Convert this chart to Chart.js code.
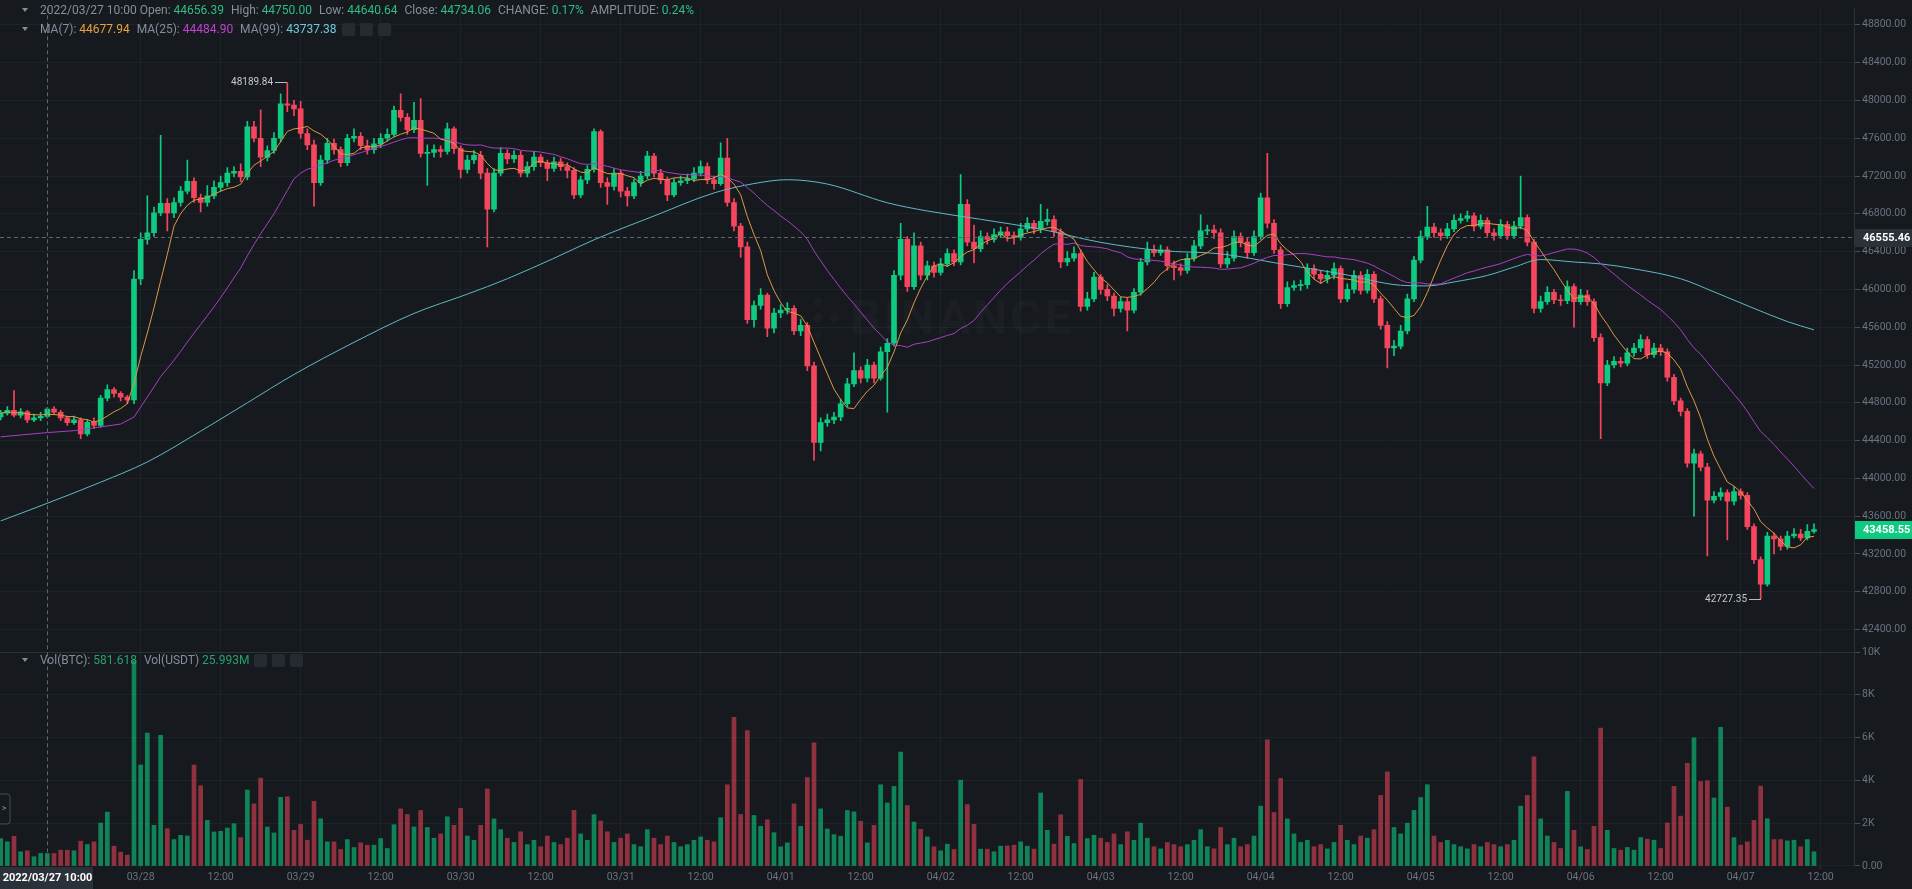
<!DOCTYPE html>
<html>
<head>
<meta charset="utf-8">
<script src="https://cdn.jsdelivr.net/npm/chart.js@4.4.1/dist/chart.umd.min.js"></script>
<style>
  html, body { margin: 0; padding: 0; background: #161a1e; overflow: hidden; }
  #wrap { position: relative; width: 1912px; height: 889px; }
  #chart { position: absolute; left: 0; top: 0; }
  .info { position: absolute; left: 22px; font: 12px Roboto, sans-serif; color: #848e9c; white-space: nowrap; line-height: 14px; }
  .info .arr { display: inline-block; width: 0; height: 0; border-left: 3px solid transparent; border-right: 3px solid transparent; border-top: 4px solid #848e9c; margin: 0 12px 1px 0; vertical-align: middle; }
  .info span.v { margin-right: 4px; }
  .g { color: #2ebd85; }
  .gv { color: #27a070; }
  .o { color: #e8a33d; }
  .p { color: #c040d6; }
  .t { color: #6ccbdb; }
  .btn { display: inline-block; width: 13px; height: 13px; background: #262b32; border-radius: 2px; margin-left: 5px; vertical-align: middle; }
</style>
</head>
<body>
<div id="wrap">
  <canvas id="chart" width="1912" height="889"></canvas>
  <div class="info" style="top:3px"><i class="arr"></i>2022/03/27 10:00 Open: <span class="g v">44656.39</span> High: <span class="g v">44750.00</span> Low: <span class="g v">44640.64</span> Close: <span class="g v">44734.06</span> CHANGE: <span class="g v">0.17%</span> AMPLITUDE: <span class="g">0.24%</span></div>
  <div class="info" style="top:22px"><i class="arr"></i>MA(7): <span class="o v">44677.94</span> MA(25): <span class="p v">44484.90</span> MA(99): <span class="t">43737.38</span><i class="btn"></i><i class="btn"></i><i class="btn"></i></div>
  <div class="info" style="top:653px"><i class="arr"></i>Vol(BTC): <span class="gv v">581.618</span> Vol(USDT) <span class="gv">25.993M</span><i class="btn"></i><i class="btn"></i><i class="btn"></i></div>
</div>
<script>
// BTC/USDT 1h candles, first one 2022/03/27 03:00, last one 2022/04/07 11:00
const firstOpen = 44650;
const closes = [
  44690,44720,44670,44705,44620,44640,44656.39,44734.06,44700,44640,
  44590,44620,44470,44593,44560,44850,44940,44900,44860,44830,
  46110,46530,46600,46810,46910,46810,46920,47040,47145,46970,
  46920,46990,47080,47130,47230,47250,47190,47720,47600,47400,
  47470,47600,47965,47950,47910,47650,47530,47130,47370,47545,
  47480,47340,47600,47620,47520,47480,47540,47600,47640,47895,
  47820,47690,47790,47440,47450,47480,47460,47700,47490,47270,
  47370,47420,47230,46850,47230,47440,47380,47420,47230,47300,
  47400,47340,47280,47350,47300,47260,47000,47160,47270,47670,
  47130,47090,47230,47040,46990,47130,47200,47410,47230,47160,
  47000,47130,47150,47170,47230,47300,47160,47120,47390,46920,
  46670,46450,45680,45830,45940,45590,45750,45780,45800,45560,
  45620,45190,44380,44590,44620,44650,44790,45000,45140,45060,
  45200,45060,45340,45430,46150,46530,46030,46460,46150,46250,
  46180,46270,46380,46290,46900,46500,46430,46560,46530,46580,
  46610,46570,46550,46640,46700,46640,46720,46740,46610,46290,
  46330,46380,45820,45900,46130,46000,45930,45800,45870,45780,
  45970,46290,46420,46390,46420,46250,46230,46200,46330,46460,
  46620,46630,46600,46270,46330,46560,46500,46390,46560,46970,
  46700,46420,45850,46020,46040,46050,46220,46160,46110,46150,
  46220,45900,46000,46150,45990,46160,45900,45620,45380,45400,
  45560,45900,46310,46560,46660,46600,46570,46640,46730,46750,
  46780,46670,46730,46600,46570,46690,46570,46670,46760,46500,
  45800,45870,45970,45890,45880,46030,45870,45940,45870,45490,
  45010,45200,45240,45220,45330,45380,45470,45310,45380,45340,
  45070,44820,44710,44160,44260,44120,43770,43810,43850,43760,
  43860,43820,43490,43140,42880,43390,43360,43280,43390,43410,
  43370,43440,43458.55
];
const highs = [
  44720,44760,44930,44740,44720,44680,44700,44750,44760,44720,
  44660,44660,44640,44620,44640,44880,44990,44960,44920,44880,
  46200,46600,46990,46870,47630,46960,46970,47090,47370,47180,
  47010,47100,47150,47200,47290,47300,47330,47780,47780,47900,
  47520,47660,48070,48189.84,48000,47990,47700,47580,47420,47600,
  47590,47510,47640,47700,47660,47580,47600,47650,47700,47940,
  48070,47860,47980,48020,47530,47530,47520,47760,47720,47520,
  47420,47470,47460,47280,47280,47500,47480,47470,47460,47350,
  47460,47430,47370,47400,47390,47340,47290,47200,47310,47700,
  47690,47180,47280,47260,47080,47170,47250,47460,47440,47270,
  47190,47170,47200,47220,47290,47360,47340,47200,47550,47600,
  46960,46700,46500,45880,46010,45960,45800,45840,45860,45830,
  45680,45650,45230,44640,44680,44700,44840,45060,45330,45180,
  45260,45230,45390,45480,46200,46700,46560,46600,46500,46300,
  46290,46330,46430,46420,47214,46950,46680,46620,46600,46640,
  46660,46660,46610,46700,46760,46730,46900,46850,46780,46640,
  46400,46450,46420,45970,46180,46160,46050,45960,45920,45910,
  46010,46330,46500,46470,46470,46450,46300,46270,46380,46520,
  46790,46680,46680,46640,46400,46620,46600,46540,46620,47020,
  47440,46740,46450,46080,46090,46100,46270,46260,46200,46200,
  46280,46250,46060,46200,46190,46210,46190,45930,45660,45460,
  45620,45950,46350,46620,46880,46700,46640,46700,46790,46800,
  46830,46810,46790,46760,46640,46740,46720,46720,47200,46790,
  46530,45930,46030,46000,45940,46090,46060,46000,45990,45900,
  45530,45250,45290,45280,45380,45430,45520,45500,45430,45420,
  45370,45100,44850,44740,44310,44290,44160,43860,43900,43880,
  43910,43890,43850,43520,43170,43430,43420,43390,43440,43470,
  43460,43510,43520
];
const lows = [
  44620,44670,44650,44640,44590,44600,44610,44640.64,44680,44610,
  44560,44570,44420,44450,44530,44540,44820,44860,44820,44790,
  44790,46050,46480,46560,46780,46620,46760,46880,47010,46920,
  46820,46880,46960,47040,47090,47190,47140,47160,47560,47300,
  47360,47440,47560,47880,47840,47600,47480,46880,47100,47330,
  47430,47300,47310,47560,47480,47430,47440,47500,47570,47620,
  47780,47640,47660,47400,47100,47400,47400,47430,47440,47180,
  47230,47330,47170,46450,46820,47200,47330,47340,47190,47190,
  47260,47300,47150,47250,47260,47180,46960,46970,47120,47240,
  47080,46900,47050,46980,46880,46960,47090,47170,47190,47120,
  46940,46980,47100,47120,47140,47200,47120,47060,47100,46880,
  46620,46340,45640,45600,45790,45500,45540,45700,45740,45520,
  45510,45140,44190,44290,44550,44580,44610,44760,44970,45010,
  45020,45010,45040,44700,45400,46100,45980,46000,46100,46100,
  46130,46150,46240,46250,46260,46460,46280,46400,46480,46500,
  46550,46510,46480,46520,46610,46590,46600,46680,46560,46230,
  46250,46300,45770,45780,45870,45950,45880,45720,45760,45560,
  45750,45940,46260,46350,46360,46200,46100,46150,46170,46300,
  46430,46580,46540,46230,46230,46300,46450,46330,46360,46530,
  46650,46380,45800,45820,45990,45990,46010,46110,46060,46070,
  46110,45860,45870,45960,45950,45960,45860,45580,45170,45300,
  45370,45530,45870,46280,46530,46550,46520,46540,46610,46700,
  46720,46620,46640,46560,46520,46540,46530,46540,46640,46460,
  45750,45760,45840,45850,45830,45850,45600,45840,45830,45450,
  44420,44980,45170,45180,45190,45290,45340,45270,45280,45300,
  45030,44780,44660,44120,43600,44080,43180,43740,43770,43350,
  43720,43780,43460,43100,42727.35,42860,43200,43240,43250,43370,
  43340,43350,43420
];
// volume in BTC
const volumes = [
  1282,1128,1390,664,710,432,586,582,586,741,
  741,710,1158,1004,1128,2008,2517,926,648,509,
  9600,4722,6219,1900,6111,1745,1236,1436,1405,4722,
  3750,2130,1590,1621,1775,1976,1328,3550,2902,4106,
  1822,1544,3211,3241,1668,1945,1205,3025,2207,1128,
  1128,772,1236,864,1081,973,973,1282,818,1930,
  2671,2409,1822,2594,1800,1300,1500,2300,1900,2700,
  1400,1200,1900,3600,2200,1700,1300,1100,1600,1000,
  1200,900,1400,1100,1000,1300,2600,1500,1200,2400,
  2100,1600,1100,1300,1500,1000,900,1700,1300,1000,
  1400,1100,900,1000,1200,1359,1205,1128,2254,3797,
  6945,2409,6327,2362,1853,2161,1559,895,1081,2902,
  1853,4136,5757,2671,1730,1467,1390,2594,2532,2084,
  1081,1899,3797,2949,3720,5325,2825,2053,1714,1359,
  895,710,1019,772,4013,2871,1945,787,787,664,
  926,941,973,1128,926,787,3411,1668,1019,2393,
  1390,1050,4044,1282,1436,1300,1100,1500,1000,1600,
  1200,2000,1300,900,800,1100,1000,900,1000,1200,
  1700,900,800,1800,1000,1300,900,1000,1400,2800,
  5900,2500,4100,2200,1500,1100,1200,900,1000,800,
  1100,1900,1200,1000,1400,1300,1700,3300,4400,1800,
  1500,2000,2600,3200,3800,1400,1100,1200,1000,900,
  800,1000,900,1100,1000,900,1000,1200,2800,3300,
  5100,2200,1400,1100,818,3488,1668,895,772,1853,
  6451,1668,818,741,864,741,1328,1251,1205,818,
  2008,3720,2331,4800,5988,3951,3982,3180,6482,2748,
  1328,973,1128,2130,3735,2207,1236,1236,1174,1205,
  895,1236,664
];
// MA(99) at some candles
const ma99At  = [0,7,15,22,30,37,44,53,62,70,76,83,89,98,107,113,118,124,133,139,147,156,165,174,183,192,201,210,214,218,223,227,231,236,240,245,252,257,263,268,272];
const ma99Val = [43550,43737,43960,44174,44500,44800,45100,45440,45746,45950,46113,46330,46525,46777,47021,47120,47161,47115,46917,46830,46742,46638,46498,46411,46376,46271,46166,46044,46037,46079,46148,46236,46316,46290,46270,46218,46113,45974,45799,45660,45572];
// MA(25) before a full window is on screen
const ma25HeadAt  = [0,7,11,18,20,22];
const ma25HeadVal = [44440,44484.9,44505,44575,44650,44860];

// axis labels
const firstTickCandle = 21; // 03/28 00:00
const tickLabels = ['03/28','12:00','03/29','12:00','03/30','12:00','03/31','12:00','04/01','12:00','04/02','12:00','04/03','12:00','04/04','12:00','04/05','12:00','04/06','12:00','04/07','12:00'];
const priceTicks = [42400,42800,43200,43600,44000,44400,44800,45200,45600,46000,46400,46800,47200,47600,48000,48400,48800];
const volTicks = [0,2000,4000,6000,8000,10000];

// crosshair
const crossCandle = 7;
const crossPrice = 46555.46;
const crossTime = '2022/03/27 10:00';

const GREEN = '#0ecb81', RED = '#f6465d';
const GRID = '#1e2329', TXT = '#6b7280';

const idx = closes.map((c, i) => i);
const opens = closes.map((c, i) => i === 0 ? firstOpen : closes[i - 1]);
const candleColors = idx.map(i => closes[i] >= opens[i] ? GREEN : RED);
const volColors = idx.map(i => closes[i] >= opens[i] ? 'rgba(14,203,129,0.6)' : 'rgba(246,70,93,0.55)');

// simple moving average of closes
function movingAvg(n, from) {
  const out = [];
  for (let i = from; i < closes.length; i++) {
    const start = Math.max(0, i - n + 1);
    let s = 0;
    for (let k = start; k <= i; k++) s += closes[k];
    out.push({ x: i, y: s / (i - start + 1) });
  }
  return out;
}
const ma7 = movingAvg(7, 0);
const ma25 = ma25HeadAt.map((v, k) => ({ x: v, y: ma25HeadVal[k] })).concat(movingAvg(25, 24));
const ma99 = ma99At.map((v, k) => ({ x: v, y: ma99Val[k] }));

function tag(c, yPix, text, bg) {
  c.fillStyle = bg;
  c.fillRect(1855, Math.round(yPix) - 9, 57, 18);
  c.fillStyle = '#ffffff';
  c.font = 'bold 11px Roboto';
  c.textAlign = 'left';
  c.textBaseline = 'middle';
  c.fillText(text, 1863, Math.round(yPix) + 0.5);
}

const overlay = {
  id: 'overlay',
  beforeDatasetsDraw(chart) {
    const c = chart.ctx;
    c.save();
    // watermark
    c.fillStyle = 'rgba(255,255,255,0.022)';
    c.translate(818, 318);
    c.rotate(Math.PI / 4);
    c.fillRect(-4, -4, 8, 8);
    c.fillRect(-15, -15, 7, 7); c.fillRect(8, -15, 7, 7); c.fillRect(-15, 8, 7, 7); c.fillRect(8, 8, 7, 7);
    c.setTransform(1, 0, 0, 1, 0, 0);
    c.font = 'bold 48px Roboto';
    c.textBaseline = 'middle';
    c.letterSpacing = '3px';
    c.fillText('BINANCE', 850, 322);
    c.restore();
  },
  afterDraw(chart) {
    const c = chart.ctx, a = chart.chartArea;
    const x = chart.scales.x, y = chart.scales.y;
    c.save();
    // dashed crosshair
    const cx = Math.round(x.getPixelForValue(crossCandle)) + 0.5;
    const cy = Math.round(y.getPixelForValue(crossPrice)) + 0.5;
    c.strokeStyle = '#5e6673';
    c.lineWidth = 1;
    c.setLineDash([4, 3]);
    c.beginPath();
    c.moveTo(cx, a.top); c.lineTo(cx, a.bottom);
    c.moveTo(a.left, cy); c.lineTo(a.right, cy);
    c.stroke();
    c.setLineDash([]);

    tag(c, cy, crossPrice.toFixed(2), '#2b3139');
    const last = closes.length - 1;
    tag(c, y.getPixelForValue(closes[last]), closes[last].toFixed(2), GREEN);

    // time label under crosshair
    c.fillStyle = '#2b3139';
    c.fillRect(0, 867, 93, 22);
    c.fillStyle = '#ffffff';
    c.font = 'bold 11px Roboto';
    c.textAlign = 'center';
    c.textBaseline = 'middle';
    c.fillText(crossTime, cx, 878);

    // highest high / lowest low markers
    const hi = highs.indexOf(Math.max(...highs));
    const lo = lows.indexOf(Math.min(...lows));
    c.strokeStyle = '#b7bdc6';
    c.fillStyle = '#c4c8ce';
    c.font = '10px Roboto';
    c.textAlign = 'right';
    [[hi, highs[hi]], [lo, lows[lo]]].forEach(([i, v]) => {
      const px = Math.round(x.getPixelForValue(i));
      const py = Math.round(y.getPixelForValue(v)) + 0.5;
      c.beginPath(); c.moveTo(px - 12, py); c.lineTo(px, py); c.stroke();
      c.fillText(v.toFixed(2), px - 14, py);
    });

    // side handle
    c.strokeStyle = '#474d57';
    c.beginPath();
    c.roundRect(-3, 794, 13, 30, 3);
    c.stroke();
    c.fillStyle = '#848e9c';
    c.font = '9px Roboto';
    c.textAlign = 'center';
    c.fillText('>', 4, 809);
    c.restore();
  }
};

Chart.defaults.font.family = 'Roboto';

new Chart(document.getElementById('chart'), {
  type: 'bar',
  data: {
    datasets: [
      { type: 'line', data: ma7, borderColor: '#d99a45', borderWidth: 1, pointRadius: 0, yAxisID: 'y', order: 1 },
      { type: 'line', data: ma25, borderColor: '#a83fc6', borderWidth: 1, pointRadius: 0, yAxisID: 'y', order: 1 },
      { type: 'line', data: ma99, borderColor: '#5fb9c6', borderWidth: 1, pointRadius: 0, cubicInterpolationMode: 'monotone', yAxisID: 'y', order: 1 },
      { data: idx.map(i => ({ x: i, y: [lows[i], highs[i]] })), backgroundColor: candleColors, barThickness: 1, grouped: false, yAxisID: 'y', order: 3 },
      { data: idx.map(i => ({ x: i, y: [opens[i], closes[i]] })), backgroundColor: candleColors, barThickness: 5, minBarLength: 1, grouped: false, yAxisID: 'y', order: 2 },
      { data: idx.map(i => ({ x: i, y: volumes[i] })), backgroundColor: volColors, barThickness: 4, grouped: false, yAxisID: 'yv', order: 2 }
    ]
  },
  options: {
    responsive: false,
    animation: false,
    devicePixelRatio: 1,
    events: [],
    layout: { padding: 0 },
    plugins: { legend: { display: false }, tooltip: { enabled: false } },
    scales: {
      x: {
        type: 'linear',
        min: -0.1,
        max: 278,
        offset: false,
        bounds: 'data',
        afterBuildTicks: s => { s.ticks = tickLabels.map((t, k) => ({ value: firstTickCandle + 12 * k })); },
        afterFit: s => { s.height = 23; },
        ticks: { autoSkip: false, maxRotation: 0, color: TXT, font: { size: 10.5 }, padding: 2, callback: (v, k) => tickLabels[k] },
        grid: { color: GRID, offset: false, tickLength: 3, tickColor: '#2b3139' },
        border: { display: false }
      },
      y: {
        type: 'linear',
        position: 'right',
        stack: 'pane',
        stackWeight: 650,
        min: 42162,
        max: 48975,
        bounds: 'data',
        afterBuildTicks: s => { s.ticks = priceTicks.map(v => ({ value: v })); },
        afterFit: s => { s.width = 58; },
        ticks: { color: TXT, font: { size: 10.5 }, padding: 2, callback: v => v.toFixed(2) },
        grid: { color: GRID, tickLength: 6, tickColor: '#474d57' },
        border: { color: '#2b3139' }
      },
      yv: {
        type: 'linear',
        position: 'right',
        stack: 'pane',
        stackWeight: 216,
        min: 0,
        max: 10000,
        bounds: 'data',
        afterBuildTicks: s => { s.ticks = volTicks.map(v => ({ value: v })); },
        afterFit: s => { s.width = 58; },
        ticks: { color: TXT, font: { size: 10.5 }, padding: 2, callback: v => v === 0 ? '0.00' : (v / 1000) + 'K' },
        grid: { color: ctx => ctx.tick && ctx.tick.value === 10000 ? '#2b3139' : GRID, tickLength: 6, tickColor: '#474d57' },
        border: { color: '#2b3139' }
      }
    }
  },
  plugins: [overlay]
});
</script>
</body>
</html>
